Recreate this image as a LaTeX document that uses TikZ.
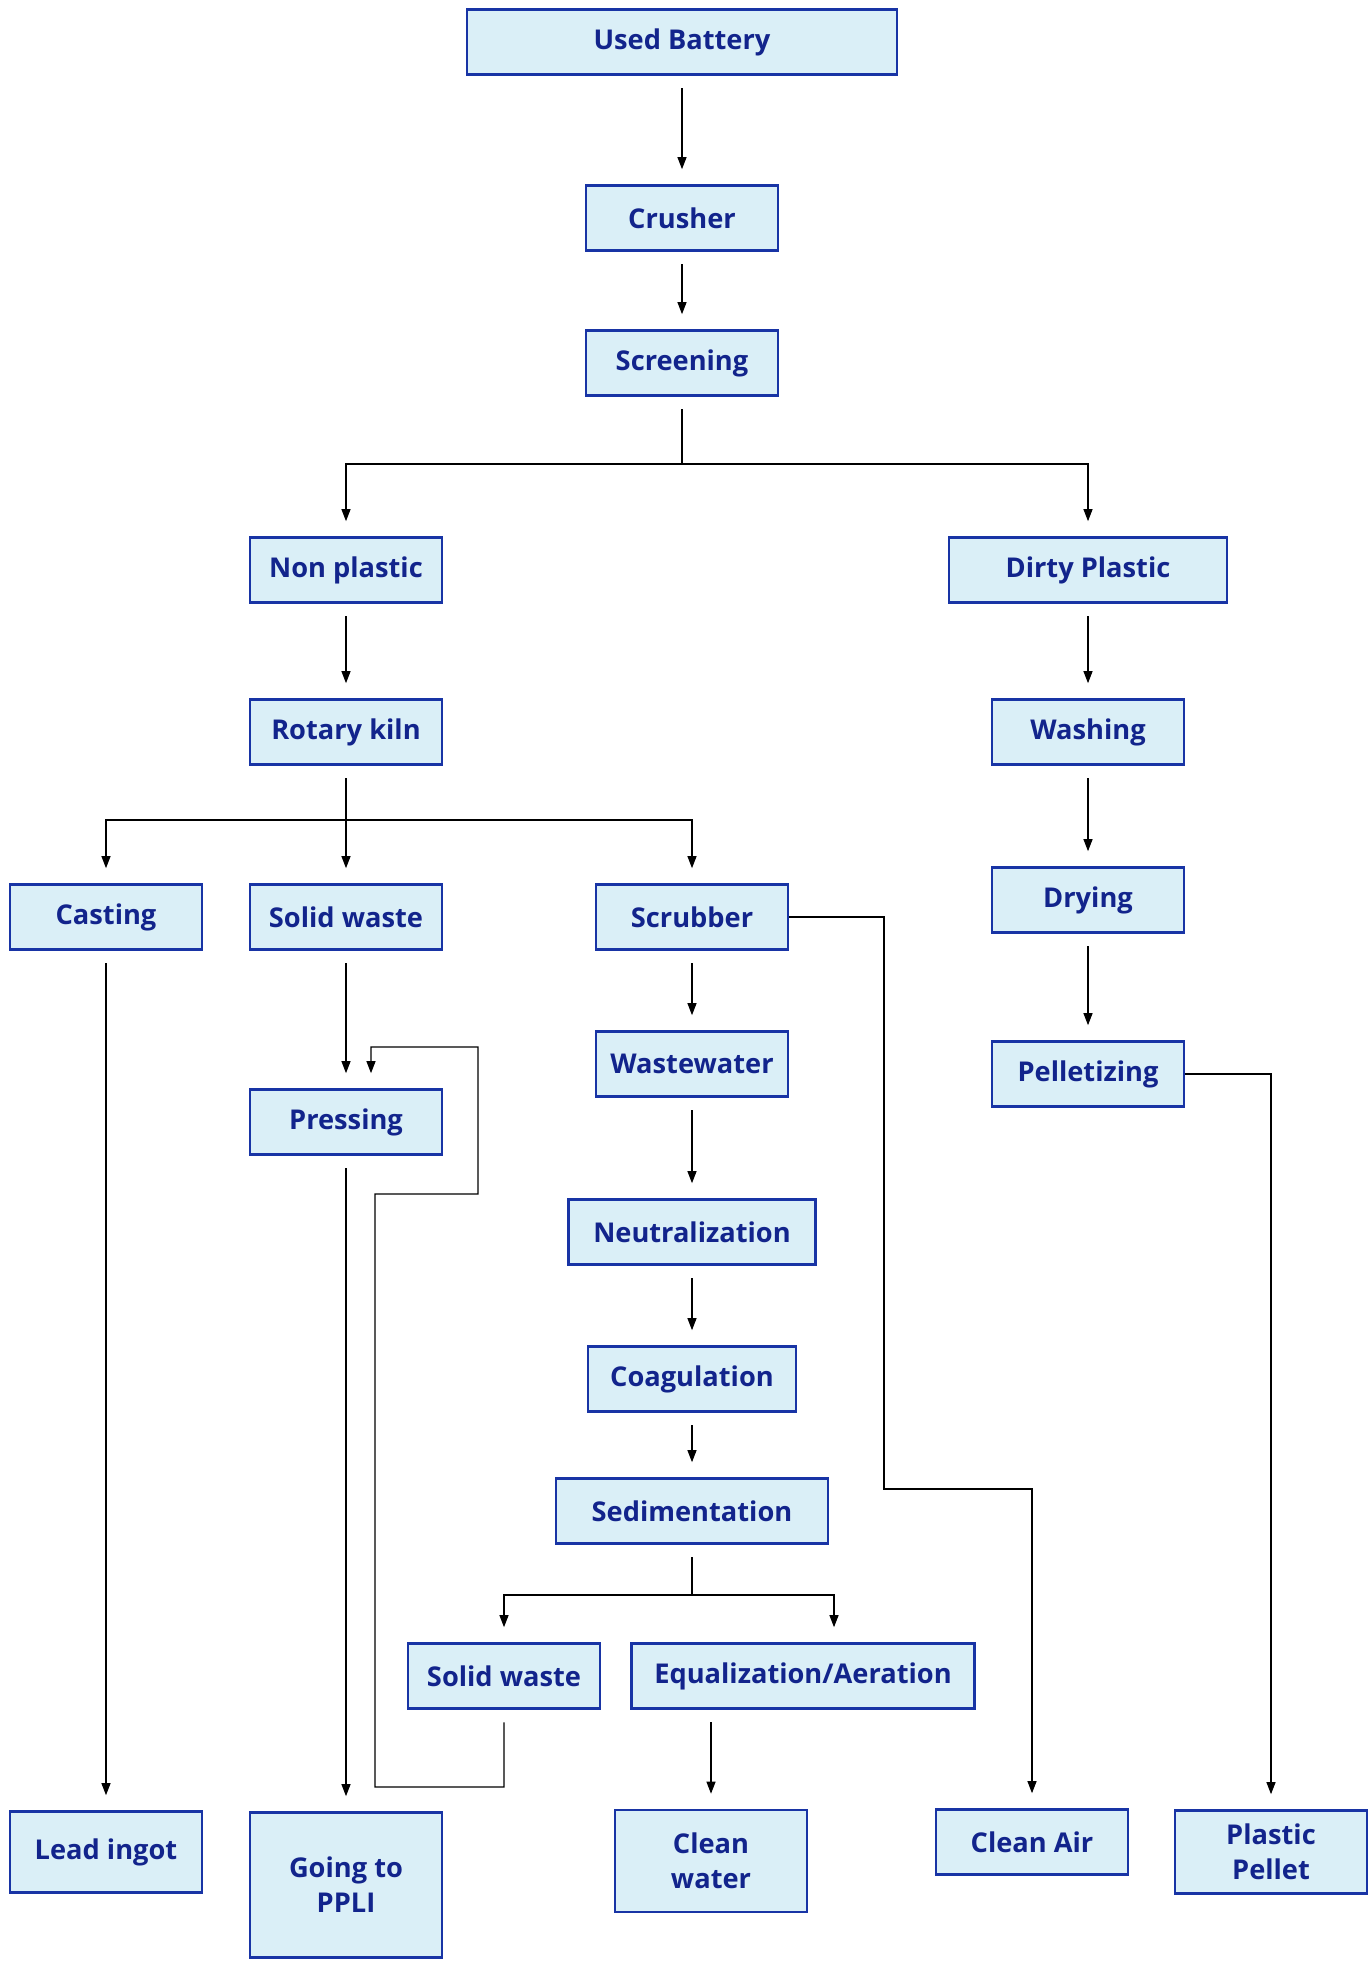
\documentclass[tikz,border=0pt]{standalone}
\usepackage{fontspec}
\setmainfont{Open Sans}
\usetikzlibrary{arrows.meta}
\definecolor{boxfill}{RGB}{218,239,247}
\definecolor{boxline}{RGB}{24,52,165}
\definecolor{boxtext}{RGB}{18,36,140}
\begin{document}
\begin{tikzpicture}[x=0.2mm, y=-0.2mm,
	stage/.style={draw=boxline, fill=boxfill, line width=1.5pt, text=boxtext,
		font=\fontsize{15.5}{20}\selectfont\bfseries, align=center, inner sep=0pt,
		minimum width=38.4mm, minimum height=13mm},
	link/.style={line width=0.6pt},
	from/.style={shorten <=2.5mm},
	flow/.style={link, -{Triangle[length=2.4mm, width=1.8mm]}, shorten >=3mm}]

	\useasboundingbox (0,0) rectangle (1371,1966);

	%main line
	\node[stage, minimum width=86mm] (ubat) at (682,42) {Used Battery};
	\node[stage] (crush) at (682,218) {Crusher};
	\node[stage] (screen) at (682,363) {Screening};

	%non plastic side
	\node[stage] (nonpl) at (346,570) {Non plastic};
	\node[stage] (kiln) at (346,732) {Rotary kiln};
	\node[stage] (cast) at (106,917) {Casting};
	\node[stage] (solid) at (346,917) {Solid waste};
	\node[stage] (scrub) at (692,917) {Scrubber};
	\node[stage] (press) at (346,1122) {Pressing};
	\node[stage] (waste) at (692,1064) {Wastewater};
	\node[stage, minimum width=49.4mm] (neutr) at (692,1232) {Neutralization};
	\node[stage, minimum width=41.6mm] (coag) at (692,1379) {Coagulation};
	\node[stage, minimum width=54.4mm] (sedim) at (692,1511) {Sedimentation};
	\node[stage] (solid2) at (504,1676) {Solid waste};
	\node[stage, minimum width=68.6mm] (equal) at (803,1676) {Equalization/Aeration};

	%plastic side
	\node[stage, minimum width=55.6mm] (dirty) at (1088,570) {Dirty Plastic};
	\node[stage] (wash) at (1088,732) {Washing};
	\node[stage] (dry) at (1088,900) {Drying};
	\node[stage] (pellet) at (1088,1074) {Pelletizing};

	%products
	\node[stage, minimum height=16.2mm] (lead) at (106,1852) {Lead ingot};
	\node[stage, minimum height=29mm] (ppli) at (346,1885) {Going to\\PPLI};
	\node[stage, minimum height=20.4mm] (cwater) at (711,1861) {Clean\\water};
	\node[stage] (cair) at (1032,1842) {Clean Air};
	\node[stage, minimum height=16.6mm] (ppel) at (1271,1852) {Plastic\\Pellet};

	%straight arrows
	\foreach \a/\b in {ubat/crush, crush/screen, nonpl/kiln, dirty/wash, wash/dry, dry/pellet,
			solid/press, press/ppli, cast/lead, scrub/waste, waste/neutr, neutr/coag, coag/sedim}
		\draw[flow, from] (\a) -- (\b);

	%splits
	\coordinate (split1) at (682,464);
	\draw[link, from] (screen) -- (split1);
	\draw[flow] (split1) -| (nonpl);
	\draw[flow] (split1) -| (dirty);

	\coordinate (split2) at (346,820);
	\draw[link, from] (kiln) -- (split2);
	\draw[flow] (split2) -| (cast);
	\draw[flow] (split2) -- (solid);
	\draw[flow] (split2) -| (scrub);

	\coordinate (split3) at (692,1595);
	\draw[link, from] (sedim) -- (split3);
	\draw[flow] (split3) -| (solid2);
	\draw[flow] (split3) -| ([xshift=6.2mm]equal.north);

	%long lines
	\coordinate (airbend) at (884,1489);
	\draw[flow] (scrub.east) -| (airbend) -| (cair);
	\draw[flow] (pellet.east) -| (ppel);
	\draw[flow, from] (equal.south -| cwater) -- (cwater);
	\draw[flow, from] (solid2) |- (375,1787) |- (478,1194) |- (371,1047) -- ([xshift=5mm]press.north);
\end{tikzpicture}
\end{document}
